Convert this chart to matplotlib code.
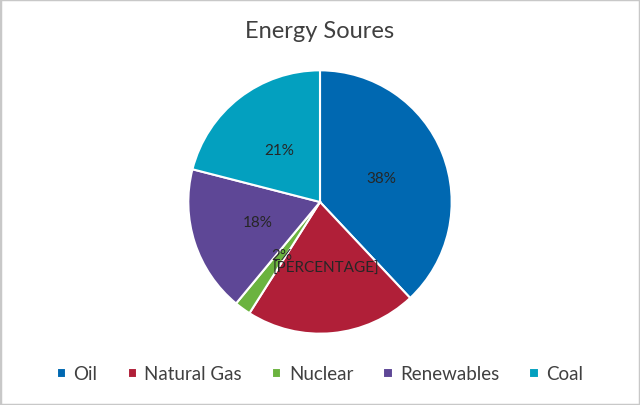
import matplotlib
matplotlib.use("Agg")
import matplotlib.pyplot as plt
from matplotlib.patches import Rectangle

categories = ["Oil", "Natural Gas", "Nuclear", "Renewables", "Coal"]
values = [38, 21, 2, 18, 21]
labels = ["38%", "[PERCENTAGE]", "2%", "18%", "21%"]
colors = ["#0068B1", "#B01F38", "#6BB33F", "#5E4796", "#03A0BF"]

plt.rcParams['font.family'] = ['Lato', 'DejaVu Sans']

fig = plt.figure(figsize=(6.4, 4.06), dpi=100)
fig.patch.set_facecolor("white")
ax = fig.add_axes([0.5 - 133/640, 1 - (203 + 133)/406, 266/640, 266/406])

wedges, texts = ax.pie(values, labels=labels, colors=colors, startangle=90,
                       counterclock=False, labeldistance=0.5,
                       wedgeprops=dict(edgecolor="white", linewidth=1.5),
                       textprops=dict(color="#262626", fontsize=11))
for t in texts:
    t.set_ha("center")
    t.set_va("center")
ax.set_xlim(-1.01, 1.01)
ax.set_ylim(-1.01, 1.01)
ax.set_aspect("equal")

fig.text(0.5, 1 - 32/406, "Energy Soures", ha="center", va="center",
         fontsize=17, color="#404040")

leg = fig.legend(wedges, categories, loc="center", bbox_to_anchor=(0.5, 1 - 375/406),
                 ncol=5, frameon=False, fontsize=13.5, handlelength=0.5,
                 handleheight=0.5, handletextpad=0.4, columnspacing=1.6)
for t in leg.get_texts():
    t.set_color("#404040")

fig.patches.append(Rectangle((0, 0), 1, 1, transform=fig.transFigure,
                             fill=False, edgecolor="#C8C8C8", linewidth=2.5))

fig.savefig("out.png", dpi=100, facecolor="white")
